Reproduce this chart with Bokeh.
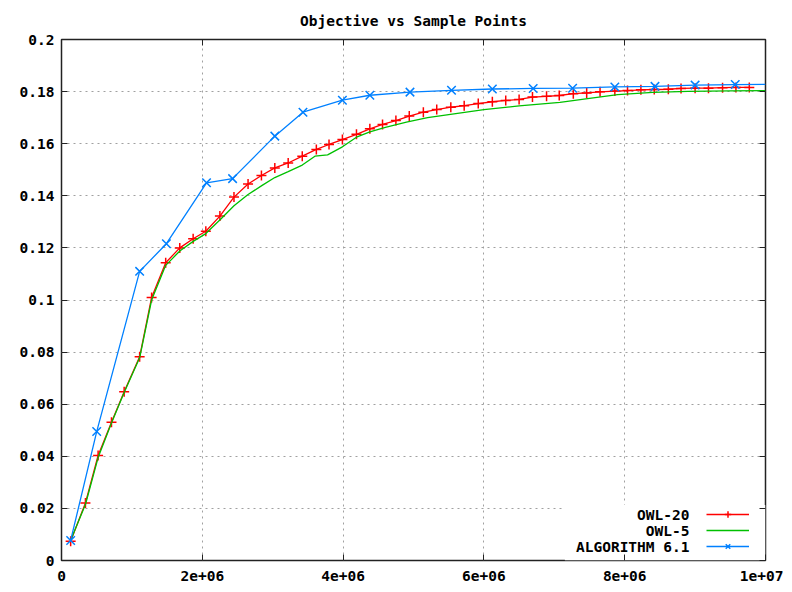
from bokeh.plotting import figure
from bokeh.models import (Range1d, FixedTicker, LinearAxis, Legend, LegendItem,
                          Label, BoxAnnotation)
from bokeh.embed import file_html
from bokeh.resources import INLINE

# ---------------- data ----------------
owl20_x = [0.13e6, 0.34e6, 0.52e6, 0.71e6, 0.89e6, 1.11e6, 1.28e6, 1.48e6, 1.68e6, 1.87e6,
           2.05e6, 2.25e6, 2.45e6, 2.65e6, 2.84e6, 3.03e6, 3.22e6, 3.42e6, 3.62e6, 3.80e6,
           3.99e6, 4.19e6, 4.38e6, 4.56e6, 4.75e6, 4.94e6, 5.14e6, 5.33e6, 5.53e6, 5.72e6,
           5.92e6, 6.12e6, 6.31e6, 6.50e6, 6.69e6, 6.89e6, 7.07e6, 7.27e6, 7.46e6, 7.65e6,
           7.86e6, 8.04e6, 8.23e6, 8.42e6, 8.62e6, 8.80e6, 9.00e6, 9.19e6, 9.39e6, 9.58e6,
           9.77e6]
owl20_y = [0.0074, 0.0221, 0.0403, 0.0531, 0.0648, 0.0782, 0.1010, 0.1143, 0.1200, 0.1235,
           0.1264, 0.1322, 0.1395, 0.1445, 0.1478, 0.1507, 0.1526, 0.1552, 0.1578, 0.1597,
           0.1616, 0.1636, 0.1657, 0.1674, 0.1689, 0.1706, 0.1721, 0.1731, 0.1740, 0.1746,
           0.1754, 0.1761, 0.1766, 0.1770, 0.1779, 0.1782, 0.1785, 0.1792, 0.1795, 0.1799,
           0.1802, 0.1804, 0.1807, 0.1808, 0.1809, 0.1812, 0.1813, 0.1813, 0.1815, 0.1816,
           0.1816]

owl5_x = [0.13e6, 0.34e6, 0.52e6, 0.71e6, 0.89e6, 1.11e6, 1.28e6, 1.48e6, 1.68e6, 1.87e6,
          2.05e6, 2.26e6, 2.45e6, 2.65e6, 2.85e6, 3.03e6, 3.22e6, 3.42e6, 3.60e6, 3.78e6,
          3.99e6, 4.19e6, 4.38e6, 4.60e6, 4.90e6, 5.20e6, 5.50e6, 6.00e6, 6.50e6, 7.08e6,
          7.50e6, 7.90e6, 8.40e6, 8.90e6, 9.50e6, 10.0e6]
owl5_y = [0.0078, 0.0215, 0.0395, 0.0528, 0.0645, 0.0778, 0.1000, 0.1133, 0.1188, 0.1225,
          0.1255, 0.1310, 0.1362, 0.1405, 0.1440, 0.1470, 0.1493, 0.1518, 0.1552, 0.1557,
          0.1588, 0.1625, 0.1645, 0.1663, 0.1683, 0.1700, 0.1712, 0.1731, 0.1745, 0.1759,
          0.1774, 0.1788, 0.1797, 0.1801, 0.1803, 0.1804]

alg_x = [0.13e6, 0.50e6, 1.11e6, 1.49e6, 2.06e6, 2.43e6, 3.03e6, 3.43e6, 3.99e6, 4.38e6,
         4.95e6, 5.54e6, 6.12e6, 6.70e6, 7.26e6, 7.86e6, 8.43e6, 9.00e6, 9.57e6, 10.0e6]
alg_y = [0.0077, 0.0495, 0.1110, 0.1216, 0.1450, 0.1466, 0.1629, 0.1721, 0.1767, 0.1786,
         0.1798, 0.1805, 0.1810, 0.1812, 0.1813, 0.1818, 0.1820, 0.1825, 0.1827, 0.1828]

x_ticks = [0, 2e6, 4e6, 6e6, 8e6, 1e7]
x_tick_labels = ["0", "2e+06", "4e+06", "6e+06", "8e+06", "1e+07"]
y_ticks = [0, 0.02, 0.04, 0.06, 0.08, 0.1, 0.12, 0.14, 0.16, 0.18, 0.2]
y_tick_labels = ["0", "0.02", "0.04", "0.06", "0.08", "0.1", "0.12", "0.14", "0.16", "0.18", "0.2"]

title_text = "Objective vs Sample Points"
legend_labels = ["OWL-20", "OWL-5", "ALGORITHM 6.1"]

# ---------------- style ----------------
FONT = "DejaVu Sans Mono"
FSIZE = "14.5px"
RED, GREEN, BLUE = "#ff0000", "#00c000", "#0080ff"
LW = 1.3

p = figure(width=783, height=589, output_backend="svg", toolbar_location=None,
           x_range=Range1d(0, 1e7), y_range=Range1d(0, 0.2),
           min_border_left=61, min_border_right=18, min_border_top=39, min_border_bottom=29,
           title=title_text)
p.title.align = "center"
p.title.vertical_align = "top"
p.title.text_font = FONT
p.title.text_font_size = FSIZE
p.title.text_font_style = "bold"
p.title.text_color = "black"
p.title.standoff = 17

p.outline_line_color = "#222222"
p.outline_line_width = 1.5
p.background_fill_color = "white"
p.border_fill_color = "white"

xo = {v: s for v, s in zip(x_ticks, x_tick_labels)}
yo = {v: s for v, s in zip(y_ticks, y_tick_labels)}

for ax, ticks, over, stand in ((p.xaxis[0], x_ticks, xo, 10), (p.yaxis[0], y_ticks, yo, 7)):
    ax.ticker = FixedTicker(ticks=ticks)
    ax.major_label_overrides = over
    ax.major_tick_in = 6
    ax.major_tick_out = 0
    ax.minor_tick_line_color = None
    ax.axis_line_color = None
    ax.major_tick_line_color = "#222222"
    ax.major_label_text_font = FONT
    ax.major_label_text_font_size = FSIZE
    ax.major_label_text_font_style = "bold"
    ax.major_label_text_color = "black"
    ax.major_label_standoff = stand

# mirrored ticks on top and right (no labels)
top_ax = LinearAxis(ticker=FixedTicker(ticks=x_ticks), major_tick_in=6, major_tick_out=0,
                    minor_tick_line_color=None, axis_line_color=None,
                    major_tick_line_color="#222222", major_label_text_alpha=0,
                    major_label_text_font_size="2px", major_label_standoff=0)
right_ax = LinearAxis(ticker=FixedTicker(ticks=y_ticks), major_tick_in=6, major_tick_out=0,
                      minor_tick_line_color=None, axis_line_color=None,
                      major_tick_line_color="#222222", major_label_text_alpha=0,
                      major_label_text_font_size="2px", major_label_standoff=0)
p.add_layout(top_ax, "above")
p.add_layout(right_ax, "right")

p.xgrid.ticker = FixedTicker(ticks=x_ticks)
p.ygrid.ticker = FixedTicker(ticks=y_ticks)
p.grid.grid_line_color = "#a0a0a0"
p.grid.grid_line_dash = "2 4"
p.grid.grid_line_width = 1

# white key box hiding the grid behind the legend
p.add_layout(BoxAnnotation(left=7.15e6, right=1e7, bottom=0, top=0.0213,
                           fill_color="white", fill_alpha=1.0, line_color=None,
                           level="underlay"))

r1l = p.line(owl20_x, owl20_y, line_color=RED, line_width=LW)
r1m = p.scatter(owl20_x, owl20_y, marker="cross", size=10, line_color=RED, line_width=1.5)
r2l = p.line(owl5_x, owl5_y, line_color=GREEN, line_width=LW)
r3l = p.line(alg_x, alg_y, line_color=BLUE, line_width=LW)
r3m = p.scatter(alg_x[:-1], alg_y[:-1], marker="x", size=12, line_color=BLUE, line_width=1.5)

legend = Legend(items=[LegendItem(label=" ", renderers=[r1l, r1m]),
                       LegendItem(label=" ", renderers=[r2l]),
                       LegendItem(label=" ", renderers=[r3l, r3m])],
                location=(645, 6), orientation="vertical",
                glyph_width=43, glyph_height=16, label_width=0, label_height=16,
                label_standoff=0, padding=0, margin=0, spacing=0,
                label_text_font_size="2px", label_text_alpha=0,
                border_line_color=None, background_fill_color="white",
                background_fill_alpha=1.0)
p.add_layout(legend)

for txt, yy in zip(legend_labels, (0.01747, 0.0114, 0.00534)):
    p.add_layout(Label(x=8.92e6, y=yy, text=txt, text_align="right", text_baseline="middle",
                       text_font=FONT, text_font_size=FSIZE, text_font_style="bold",
                       text_color="black"))

open("out.html", "w").write(file_html(p, INLINE))
